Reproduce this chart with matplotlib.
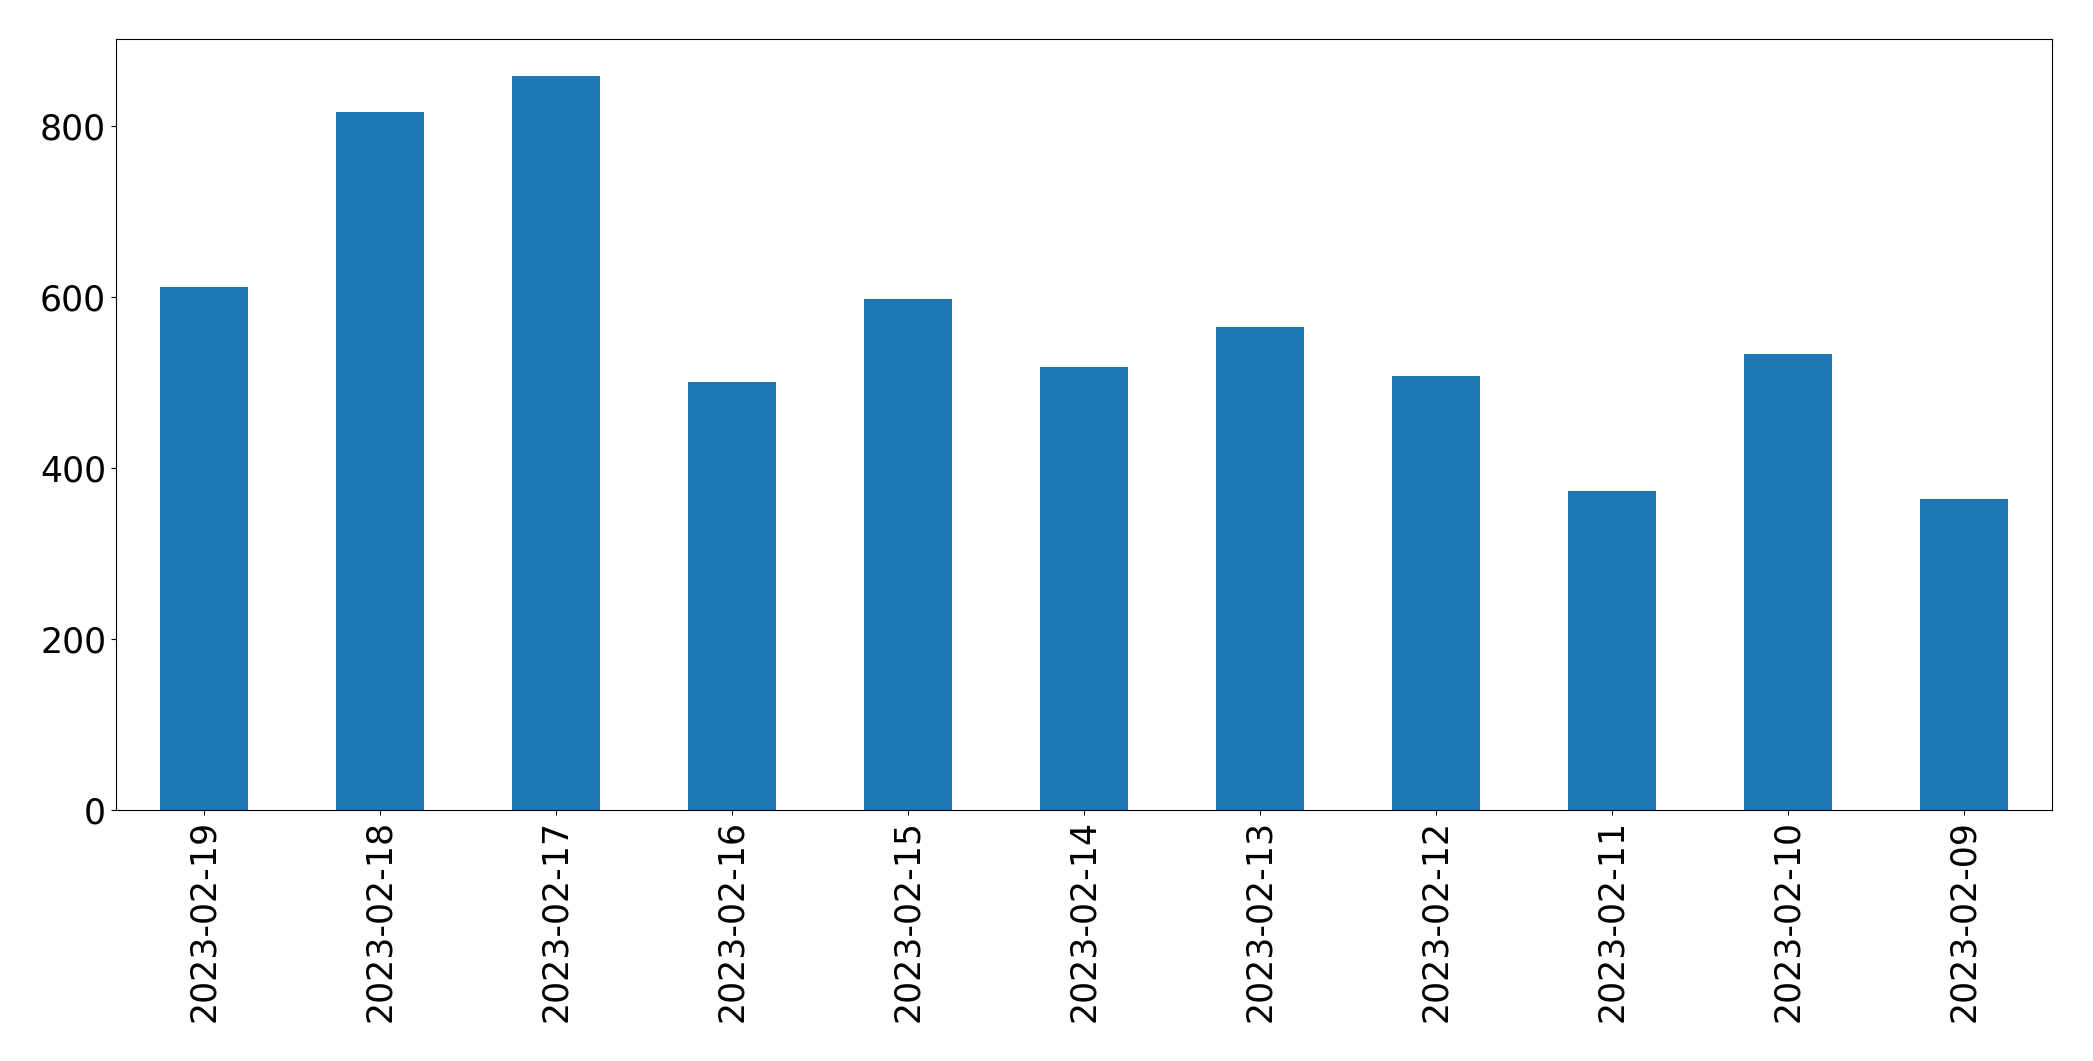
import matplotlib
matplotlib.use("Agg")
import matplotlib.pyplot as plt
import numpy as np

dates = ["2023-02-19", "2023-02-18", "2023-02-17", "2023-02-16", "2023-02-15",
         "2023-02-14", "2023-02-13", "2023-02-12", "2023-02-11", "2023-02-10",
         "2023-02-09"]
counts = [611, 816, 858, 500, 597, 518, 565, 507, 373, 533, 363]

fig = plt.figure(figsize=(20.93, 10.61), dpi=100)
ax = fig.add_axes([0.0554, 0.2366, 0.9250, 0.7264])
x = np.arange(len(dates))
ax.bar(x, counts, width=0.5, color="#1f77b4")
ax.set_xlim(-0.5, len(dates) - 0.5)
ax.set_ylim(0, max(counts) * 1.05)
ax.set_xticks(x)
ax.set_xticklabels(dates, rotation=90)
ax.set_yticks([0, 200, 400, 600, 800])
ax.tick_params(axis="both", labelsize=25)
fig.savefig("out.png", dpi=100)
